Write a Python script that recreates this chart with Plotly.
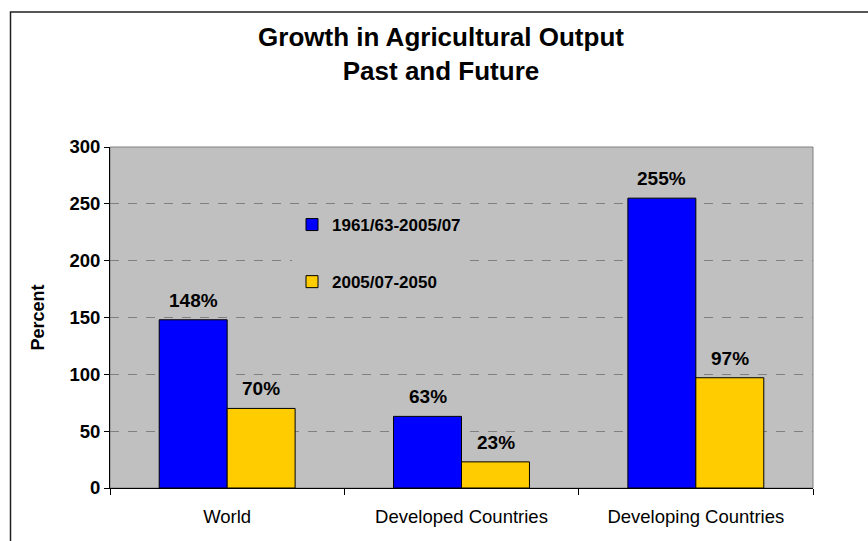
import plotly.graph_objects as go

categories = ["World", "Developed Countries", "Developing Countries"]
past = [148, 63, 255]
future = [70, 23, 97]
series_names = ["1961/63-2005/07", "2005/07-2050"]
colors = ["#0000FF", "#FFCC00"]

W, H = 868, 541
L, R, T, B = 110, 55, 147, 53
pw, ph = W - L - R, H - T - B

def px(x):
    return (x - L) / pw

def py(y):
    return (H - B - y) / ph

FONT = "Arial, Liberation Sans, sans-serif"
BOLD = dict(family=FONT, color="black", weight="bold")

fig = go.Figure()
annotations = []
for name, vals, col, grp, shift in zip(series_names, [past, future], colors, ["a", "b"], [-34, 34]):
    fig.add_trace(go.Bar(
        x=categories, y=vals, name=name, legendgroup=grp,
        marker=dict(color=col, line=dict(color="black", width=1)),
    ))
    for c, v in zip(categories, vals):
        annotations.append(dict(x=c, y=v, xref="x", yref="y", text=f"{v}%",
                                showarrow=False, xshift=shift, yshift=7,
                                yanchor="bottom", font=dict(size=19, **BOLD)))

fig.update_layout(
    width=W, height=H,
    margin=dict(l=L, r=R, t=T, b=B),
    paper_bgcolor="white", plot_bgcolor="#C0C0C0",
    barmode="group", bargap=0.42, bargroupgap=0,
    font=dict(family=FONT, color="black"),
    title=dict(text="Growth in Agricultural Output<br>Past and Future",
               x=441 / W, xanchor="center", xref="container",
               y=1 - 46 / H, yanchor="top",
               font=dict(size=26, **BOLD)),
    legend=dict(x=px(292), y=py(207), xanchor="left", yanchor="top",
                bgcolor="#C0C0C0", traceorder="grouped", tracegroupgap=32,
                font=dict(size=17, **BOLD)),
    annotations=annotations,
    shapes=[
        dict(type="rect", xref="paper", yref="paper", x0=0, x1=1, y0=0, y1=1,
             line=dict(color="#808080", width=1), layer="below"),
        dict(type="rect", xref="paper", yref="paper",
             x0=px(10.5), x1=px(880), y0=py(560), y1=py(12),
             line=dict(color="#202020", width=1.5)),
    ],
)
fig.update_yaxes(range=[0, 300], dtick=50, showline=True, linecolor="black", linewidth=1,
                 ticks="outside", ticklen=5, tickcolor="black",
                 showgrid=True, gridcolor="#808080", griddash="dash", gridwidth=1,
                 zeroline=False,
                 tickfont=dict(size=18.5, **BOLD),
                 title=dict(text="Percent", standoff=20, font=dict(size=18, **BOLD)))
fig.update_xaxes(showline=True, linecolor="black", linewidth=1,
                 ticks="outside", ticklen=6, tickcolor="black", tickson="boundaries",
                 tickfont=dict(family=FONT, size=18.5, color="black"),
                 ticklabelstandoff=12)

fig.write_html("out.html")
